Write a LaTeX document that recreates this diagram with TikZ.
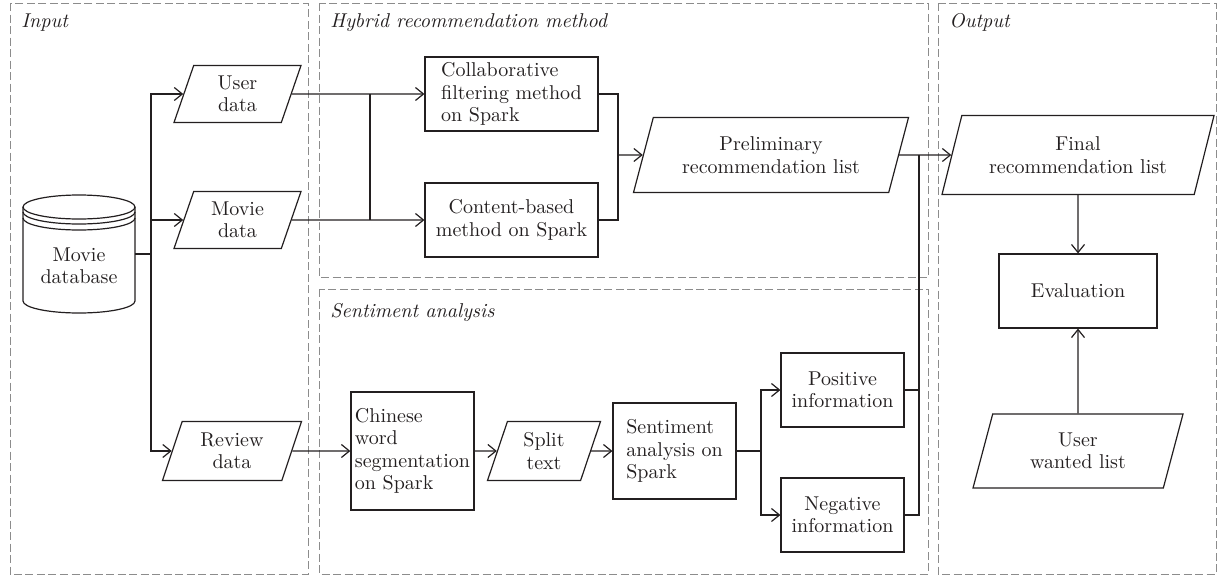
\documentclass[tikz,border=0pt]{standalone}
\usepackage{tikz}
\usetikzlibrary{shapes.geometric, arrows.meta, calc}
\definecolor{FlowInk}{RGB}{35,31,32}
\definecolor{FlowGray}{RGB}{140,140,140}

\begin{document}
\begin{tikzpicture}[x=0.5pt, y=-0.5pt,
    every node/.style={font=\fontsize{10}{11.25}\selectfont, text=FlowInk},
    proc/.style={draw=FlowInk, line width=0.6pt, rectangle, align=center, inner sep=2pt},
    data/.style={draw=FlowInk, line width=0.6pt, trapezium, trapezium left angle=64,
      trapezium right angle=116, trapezium stretches body, align=center, inner sep=1pt},
    panel/.style={draw=FlowGray, line width=0.5pt, dash pattern=on 4pt off 1.75pt},
    panel title/.style={font=\fontsize{10}{12}\selectfont\itshape, anchor=base west, inner sep=0pt},
    link/.style={draw=FlowInk, line width=0.6pt},
    flow/.style={link, -{Straight Barb[length=4pt, width=6.5pt]}}]
        \useasboundingbox (0,0) rectangle (1218,578);

        % Dashed panels
        \draw[panel] (10,3) rectangle (308,574);
        \draw[panel] (319,3) rectangle (928,277);
        \draw[panel] (319,289) rectangle (928,574);
        \draw[panel] (938,3) rectangle (1216,574);
        \node[panel title] (tin) at (21,27) {Input};
        \node[panel title] (thyb) at (330,27) {Hybrid recommendation method};
        \node[panel title] (tsen) at (330,317) {Sentiment analysis};
        \node[panel title] (tout) at (949,27) {Output};

        % Movie database (cylinder)
        \node[minimum width=56pt, align=center] (db) at (79,266) {Movie\\database};
        \draw[link] (23,207) -- (23,301)
          arc[start angle=180, end angle=360, x radius=28pt, y radius=6pt] -- (135,207);
        \draw[link] (79,207) ellipse[x radius=28pt, y radius=6pt];
        \draw[link] (23,212) arc[start angle=180, end angle=360, x radius=28pt, y radius=6pt];
        \draw[link] (23,218) arc[start angle=180, end angle=360, x radius=28pt, y radius=6pt];

        % Input data
        \node[data, minimum width=63.5pt, minimum height=28.5pt] (user) at (237.5,94) {User\\data};
        \node[data, minimum width=63.5pt, minimum height=28.5pt] (movie) at (237.5,220) {Movie\\data};
        \node[data, minimum width=69.5pt, minimum height=29.5pt] (review) at (232,451) {Review\\data};

        % Hybrid recommendation
        \node[proc, align=left, minimum width=86.5pt, minimum height=37pt] (collab) at (511.5,94)
              {Collaborative\\filtering method\\on Spark};
        \node[proc, minimum width=86.5pt, minimum height=37pt] (content) at (511.5,220)
              {Content-based\\method on Spark};
        \node[data, minimum width=137.5pt, minimum height=37.5pt] (prelim) at (771,155)
              {Preliminary\\recommendation list};

        % Sentiment analysis
        \node[proc, align=left, minimum width=61.5pt, minimum height=59pt] (chinese) at (412.5,451)
              {Chinese\\word\\segmentation\\on Spark};
        \node[data, minimum width=56.5pt, minimum height=29.5pt] (split) at (544,451) {Split\\text};
        \node[proc, align=left, minimum width=61.5pt, minimum height=48pt] (senti) at (674.5,451)
              {Sentiment\\analysis on\\Spark};
        \node[proc, minimum width=61.5pt, minimum height=37pt] (pos) at (842.5,390) {Positive\\information};
        \node[proc, minimum width=61.5pt, minimum height=37pt] (neg) at (842.5,515) {Negative\\information};

        % Output
        \node[data, minimum width=136pt, minimum height=39.5pt] (final) at (1078,155)
              {Final\\recommendation list};
        \node[proc, minimum width=79pt, minimum height=37pt] (eval) at (1078,291) {Evaluation};
        \node[data, minimum width=105pt, minimum height=37pt] (wanted) at (1078,451)
              {User\\wanted list};

        % Connectors
        \coordinate (dbout) at (135,254);
        \coordinate (fork) at (151,254);
        \coordinate (join) at (370,94);
        \coordinate (merge) at (618,155);
        \coordinate (branch) at (761,451);
        \coordinate (gather) at (919,155);

        \draw[link] (dbout) -- (fork);
        \draw[flow] (fork) |- (user);
        \draw[flow] (fork) |- (movie);
        \draw[flow] (fork) |- (review);

        \draw[flow] (user) -- (collab);
        \draw[flow] (movie) -- (content);
        \draw[link] (join) -- (join |- movie);

        \draw[link] (collab) -| (merge);
        \draw[link] (content) -| (merge);
        \draw[flow] (merge) -- (prelim);
        \draw[flow] (prelim) -- (final);

        \draw[flow] (review) -- (chinese);
        \draw[flow] (chinese) -- (split);
        \draw[flow] (split) -- (senti);
        \draw[link] (senti) -- (branch);
        \draw[flow] (branch) |- (pos);
        \draw[flow] (branch) |- (neg);
        \draw[link] (pos) -| (gather);
        \draw[link] (neg) -| (gather);

        \draw[flow] (final) -- (eval);
        \draw[flow] (wanted) -- (eval);
      \end{tikzpicture}
\end{document}
